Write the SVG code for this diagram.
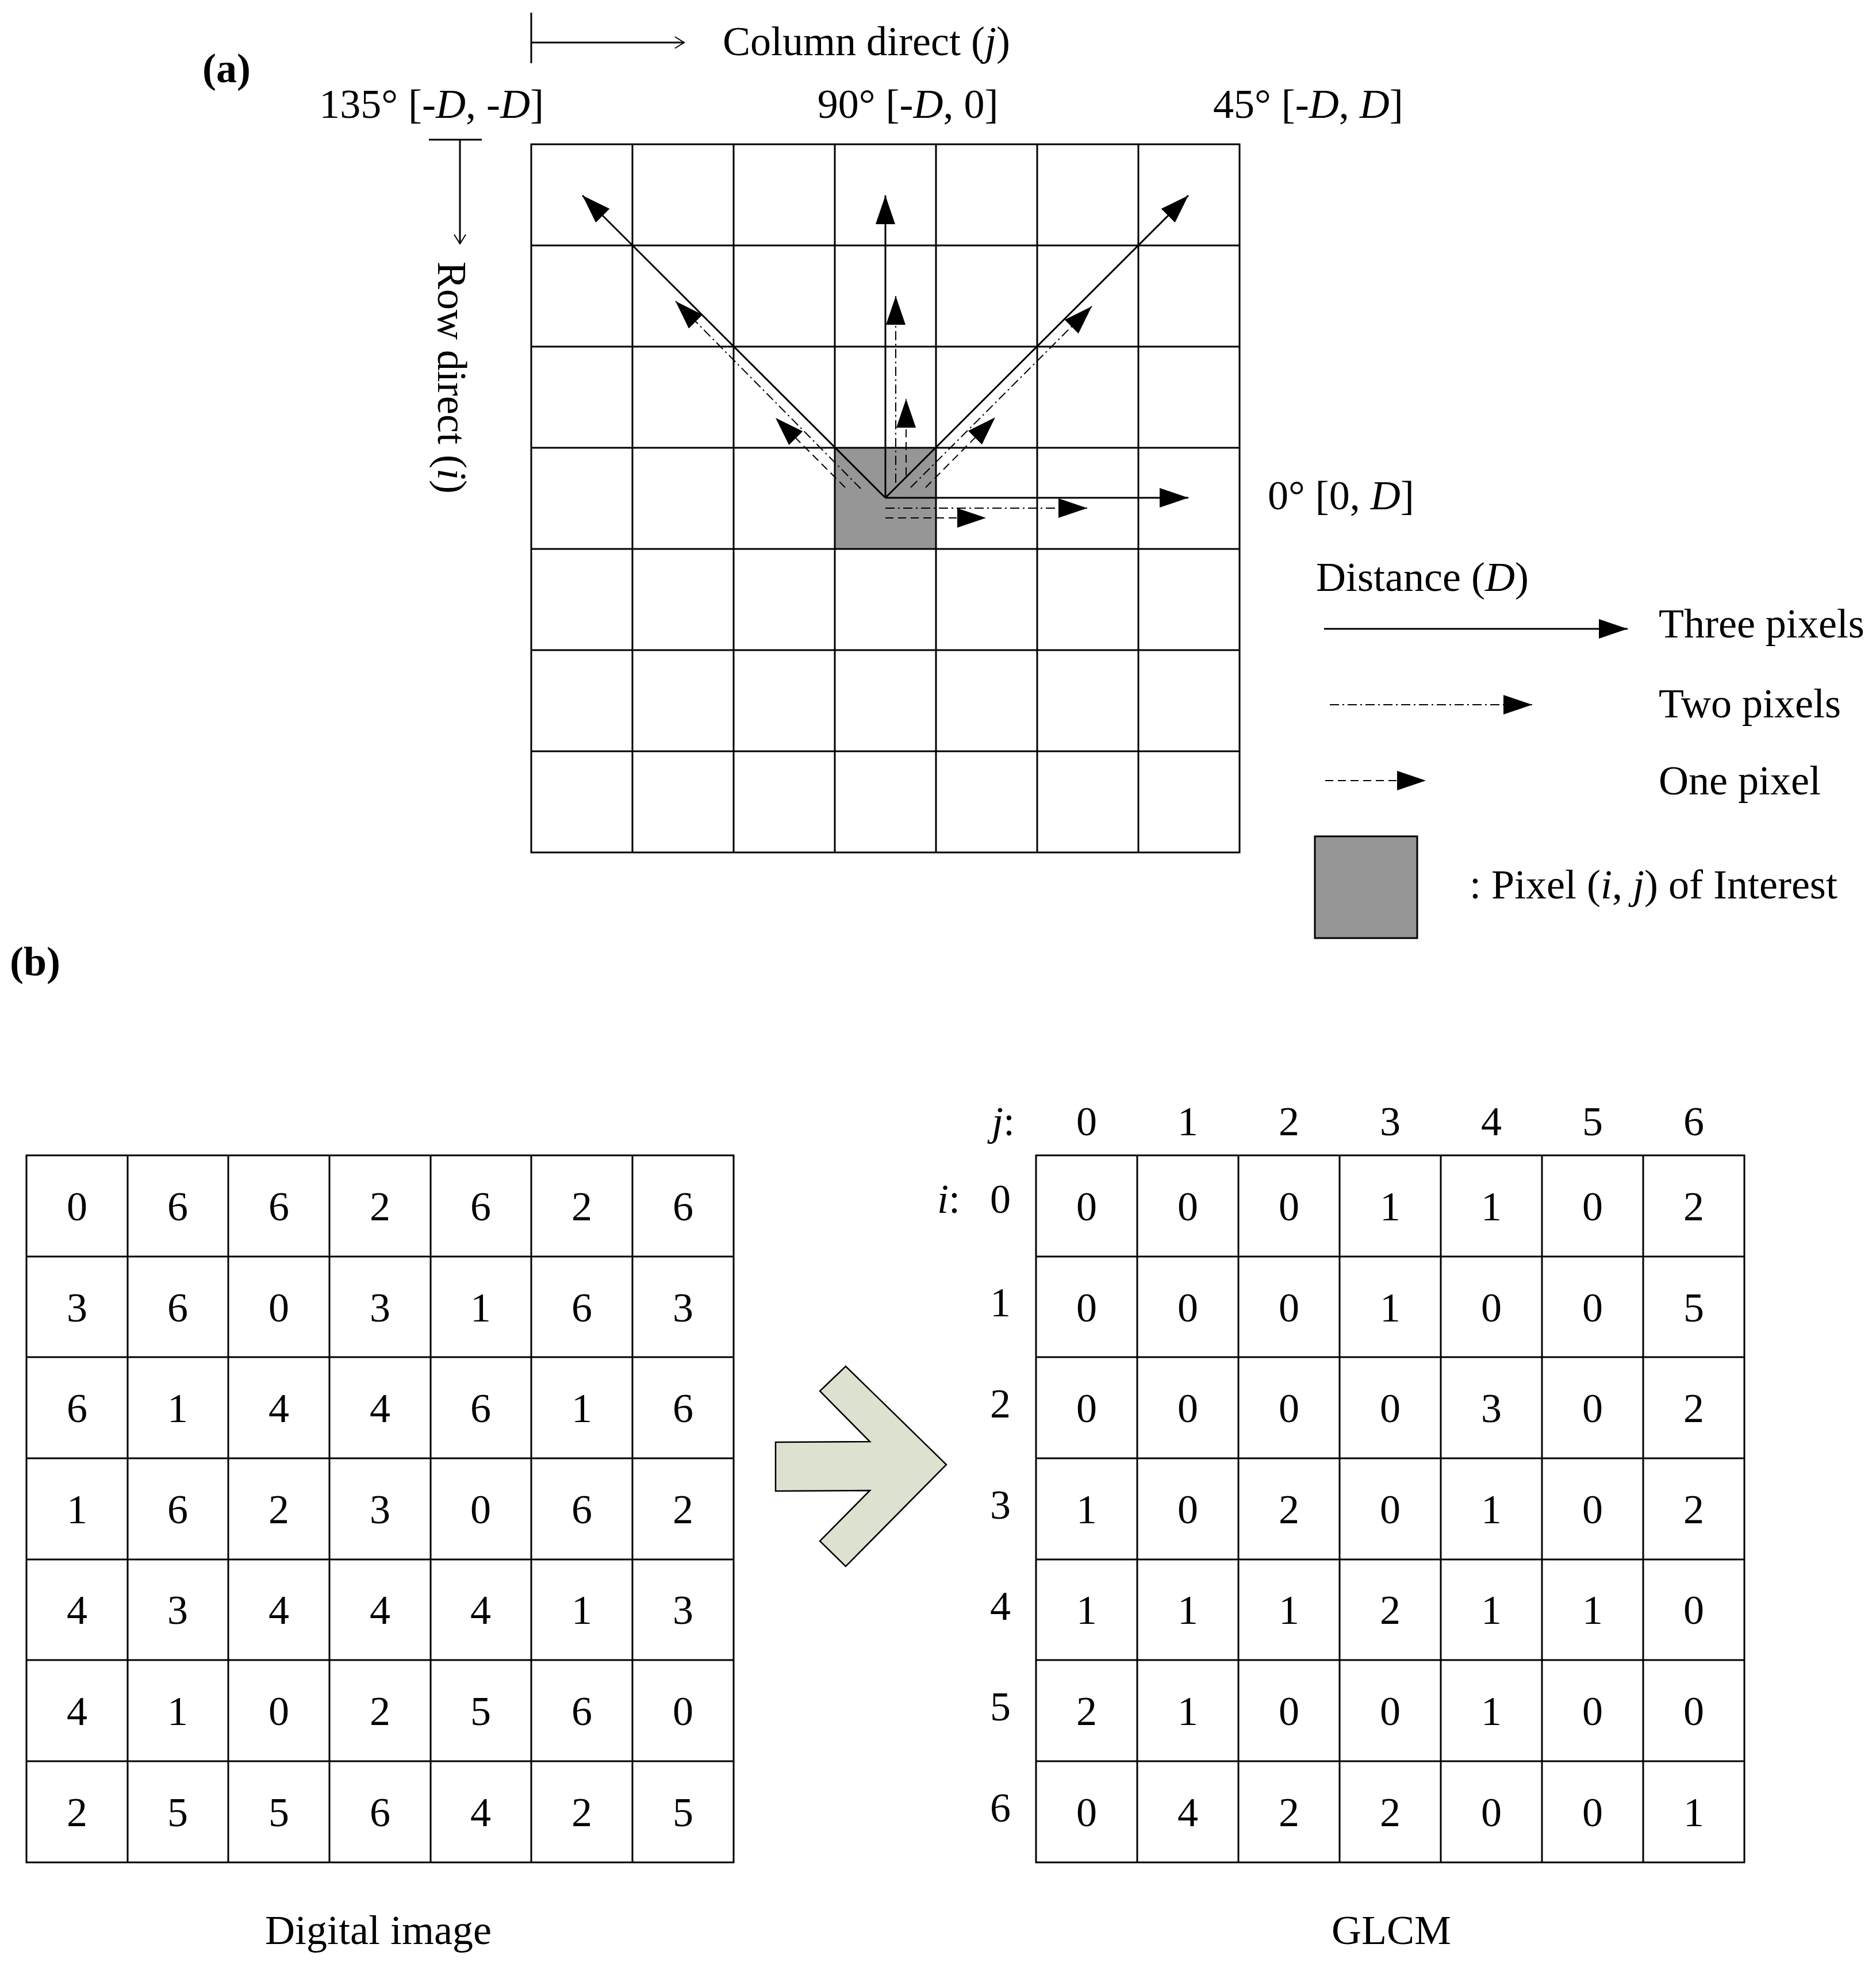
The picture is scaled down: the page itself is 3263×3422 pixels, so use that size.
<svg xmlns="http://www.w3.org/2000/svg" width="3263" height="3422" viewBox="0 0 3263 3422">
<defs>
<style>
text{font-family:"Liberation Serif","Times New Roman",serif;font-size:72px;fill:#000}
.g{fill:none;stroke:#000;stroke-width:3}
.s{stroke:#000;stroke-width:3;fill:none}
.dd{stroke:#000;stroke-width:2;fill:none;stroke-dasharray:16 6 3 6}
.da{stroke:#000;stroke-width:2;fill:none;stroke-dasharray:14 8}
.c{text-anchor:middle}
</style>
<marker id="ah" markerWidth="50" markerHeight="34" refX="50" refY="17" orient="auto" markerUnits="userSpaceOnUse"><path d="M0,0 L50,17 L0,34 Z" fill="#000"/></marker>
<marker id="oa" markerWidth="20" markerHeight="24" refX="18" refY="12" orient="auto" markerUnits="userSpaceOnUse"><path d="M2,2 L18,12 L2,22" fill="none" stroke="#000" stroke-width="2"/></marker>
</defs>
<rect width="3263" height="3422" fill="#fff"/>

<text x="352" y="143" font-weight="bold">(a)</text>
<text x="17" y="1697" font-weight="bold">(b)</text>

<g id="axes">
<line x1="924" y1="22" x2="924" y2="110" class="s" stroke-width="2"/>
<line x1="924" y1="74" x2="1190" y2="74" class="s" stroke-width="2" marker-end="url(#oa)"/>
<text x="1257" y="96">Column direct (<tspan font-style="italic">j</tspan>)</text>
<line x1="746" y1="243" x2="838" y2="243" class="s" stroke-width="2"/>
<line x1="800" y1="243" x2="800" y2="424" class="s" stroke-width="2" marker-end="url(#oa)"/>
<text transform="translate(762,455) rotate(90)">Row direct (<tspan font-style="italic">i</tspan>)</text>
</g>

<g id="labels">
<text x="946" y="205" text-anchor="end">135° [-<tspan font-style="italic">D</tspan>, -<tspan font-style="italic">D</tspan>]</text>
<text x="1579" y="205" class="c">90° [-<tspan font-style="italic">D</tspan>, 0]</text>
<text x="2110" y="205">45° [-<tspan font-style="italic">D</tspan>, <tspan font-style="italic">D</tspan>]</text>
<text x="2205" y="886">0° [0, <tspan font-style="italic">D</tspan>]</text>
</g>

<g id="gridA">
<rect x="1452" y="779" width="176" height="176" fill="#969696"/>
<path class="g" d="M924,251H2156V1483H924Z M1100,251V1483 M1276,251V1483 M1452,251V1483 M1628,251V1483 M1804,251V1483 M1980,251V1483 M924,427H2156 M924,603H2156 M924,779H2156 M924,955H2156 M924,1131H2156 M924,1307H2156"/>
</g>

<g id="connectors">
<line x1="1540" y1="866" x2="2067" y2="866" class="s" marker-end="url(#ah)"/>
<line x1="1540" y1="866" x2="1540" y2="340" class="s" marker-end="url(#ah)"/>
<line x1="1540" y1="866" x2="1013" y2="340" class="s" marker-end="url(#ah)"/>
<line x1="1540" y1="866" x2="2067" y2="340" class="s" marker-end="url(#ah)"/>
<line x1="1540" y1="884" x2="1891" y2="884" class="dd" marker-end="url(#ah)"/>
<line x1="1558" y1="840" x2="1558" y2="515" class="dd" marker-end="url(#ah)"/>
<line x1="1497" y1="850" x2="1175" y2="524" class="dd" marker-end="url(#ah)"/>
<line x1="1584" y1="848" x2="1899" y2="533" class="dd" marker-end="url(#ah)"/>
<line x1="1540" y1="901" x2="1715" y2="901" class="da" marker-end="url(#ah)"/>
<line x1="1576" y1="827" x2="1576" y2="694" class="da" marker-end="url(#ah)"/>
<line x1="1470" y1="848" x2="1349" y2="727" class="da" marker-end="url(#ah)"/>
<line x1="1610" y1="848" x2="1731" y2="726" class="da" marker-end="url(#ah)"/>
</g>

<g id="legend">
<text x="2289" y="1028">Distance (<tspan font-style="italic">D</tspan>)</text>
<line x1="2303" y1="1094" x2="2831" y2="1094" class="s" marker-end="url(#ah)"/>
<text x="2885" y="1109">Three pixels</text>
<line x1="2313" y1="1226" x2="2665" y2="1226" class="dd" marker-end="url(#ah)"/>
<text x="2885" y="1248">Two pixels</text>
<line x1="2305" y1="1358" x2="2480" y2="1358" class="da" marker-end="url(#ah)"/>
<text x="2885" y="1382">One pixel</text>
<rect x="2287" y="1455" width="178" height="177" fill="#969696" stroke="#000" stroke-width="3"/>
<text x="2556" y="1563">: Pixel (<tspan font-style="italic">i</tspan>, <tspan font-style="italic">j</tspan>) of Interest</text>
</g>

<g id="digitalImage">
<path class="g" d="M46,2010H1276V3240H46Z M222,2010V3240 M397,2010V3240 M573,2010V3240 M749,2010V3240 M924,2010V3240 M1100,2010V3240 M46,2186H1276 M46,2361H1276 M46,2537H1276 M46,2713H1276 M46,2888H1276 M46,3064H1276"/>
<g class="c">
<text x="134" y="2123">0</text><text x="309" y="2123">6</text><text x="485" y="2123">6</text><text x="661" y="2123">2</text><text x="836" y="2123">6</text><text x="1012" y="2123">2</text><text x="1188" y="2123">6</text>
<text x="134" y="2299">3</text><text x="309" y="2299">6</text><text x="485" y="2299">0</text><text x="661" y="2299">3</text><text x="836" y="2299">1</text><text x="1012" y="2299">6</text><text x="1188" y="2299">3</text>
<text x="134" y="2474">6</text><text x="309" y="2474">1</text><text x="485" y="2474">4</text><text x="661" y="2474">4</text><text x="836" y="2474">6</text><text x="1012" y="2474">1</text><text x="1188" y="2474">6</text>
<text x="134" y="2650">1</text><text x="309" y="2650">6</text><text x="485" y="2650">2</text><text x="661" y="2650">3</text><text x="836" y="2650">0</text><text x="1012" y="2650">6</text><text x="1188" y="2650">2</text>
<text x="134" y="2825">4</text><text x="309" y="2825">3</text><text x="485" y="2825">4</text><text x="661" y="2825">4</text><text x="836" y="2825">4</text><text x="1012" y="2825">1</text><text x="1188" y="2825">3</text>
<text x="134" y="3001">4</text><text x="309" y="3001">1</text><text x="485" y="3001">0</text><text x="661" y="3001">2</text><text x="836" y="3001">5</text><text x="1012" y="3001">6</text><text x="1188" y="3001">0</text>
<text x="134" y="3177">2</text><text x="309" y="3177">5</text><text x="485" y="3177">5</text><text x="661" y="3177">6</text><text x="836" y="3177">4</text><text x="1012" y="3177">2</text><text x="1188" y="3177">5</text>
</g>
<text x="658" y="3382" class="c">Digital image</text>
</g>

<g id="bigArrow">
<polygon points="1471,2377 1426,2420 1513,2508 1349,2509 1349,2594 1513,2593 1426,2681 1471,2725 1646,2548" fill="#dde1cf" stroke="#000" stroke-width="2.5"/>
</g>

<g id="glcm">
<path class="g" d="M1802,2010H3034V3240H1802Z M1978,2010V3240 M2154,2010V3240 M2330,2010V3240 M2506,2010V3240 M2682,2010V3240 M2858,2010V3240 M1802,2186H3034 M1802,2361H3034 M1802,2537H3034 M1802,2713H3034 M1802,2888H3034 M1802,3064H3034"/>
<text x="1765" y="1975" text-anchor="end" font-style="italic">j<tspan font-style="normal">:</tspan></text>
<text x="1670" y="2110" text-anchor="end" font-style="italic">i<tspan font-style="normal">:</tspan></text>
<g class="c">
<text x="1890" y="1975">0</text><text x="2066" y="1975">1</text><text x="2242" y="1975">2</text><text x="2418" y="1975">3</text><text x="2594" y="1975">4</text><text x="2770" y="1975">5</text><text x="2946" y="1975">6</text>
<text x="1740" y="2110">0</text><text x="1740" y="2290">1</text><text x="1740" y="2466">2</text><text x="1740" y="2642">3</text><text x="1740" y="2818">4</text><text x="1740" y="2993">5</text><text x="1740" y="3169">6</text>
<text x="1890" y="2123">0</text><text x="2066" y="2123">0</text><text x="2242" y="2123">0</text><text x="2418" y="2123">1</text><text x="2594" y="2123">1</text><text x="2770" y="2123">0</text><text x="2946" y="2123">2</text>
<text x="1890" y="2299">0</text><text x="2066" y="2299">0</text><text x="2242" y="2299">0</text><text x="2418" y="2299">1</text><text x="2594" y="2299">0</text><text x="2770" y="2299">0</text><text x="2946" y="2299">5</text>
<text x="1890" y="2474">0</text><text x="2066" y="2474">0</text><text x="2242" y="2474">0</text><text x="2418" y="2474">0</text><text x="2594" y="2474">3</text><text x="2770" y="2474">0</text><text x="2946" y="2474">2</text>
<text x="1890" y="2650">1</text><text x="2066" y="2650">0</text><text x="2242" y="2650">2</text><text x="2418" y="2650">0</text><text x="2594" y="2650">1</text><text x="2770" y="2650">0</text><text x="2946" y="2650">2</text>
<text x="1890" y="2825">1</text><text x="2066" y="2825">1</text><text x="2242" y="2825">1</text><text x="2418" y="2825">2</text><text x="2594" y="2825">1</text><text x="2770" y="2825">1</text><text x="2946" y="2825">0</text>
<text x="1890" y="3001">2</text><text x="2066" y="3001">1</text><text x="2242" y="3001">0</text><text x="2418" y="3001">0</text><text x="2594" y="3001">1</text><text x="2770" y="3001">0</text><text x="2946" y="3001">0</text>
<text x="1890" y="3177">0</text><text x="2066" y="3177">4</text><text x="2242" y="3177">2</text><text x="2418" y="3177">2</text><text x="2594" y="3177">0</text><text x="2770" y="3177">0</text><text x="2946" y="3177">1</text>
</g>
<text x="2420" y="3382" class="c">GLCM</text>
</g>
</svg>
